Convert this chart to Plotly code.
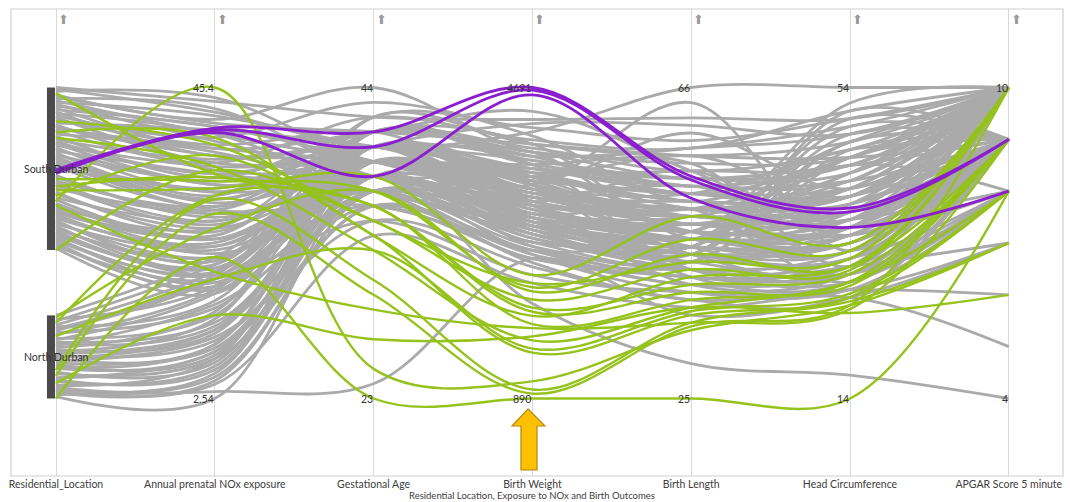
import plotly.graph_objects as go

# ---------------- data ----------------
axis_names = ["Residential_Location", "Annual prenatal NOx exposure", "Gestational Age",
              "Birth Weight", "Birth Length", "Head Circumference", "APGAR Score 5 minute"]
categories = ["South Durban", "North Durban"]
chart_title = "Residential Location, Exposure to NOx and Birth Outcomes"

# G = grey (not marked), H = green (marked), P = purple (marked)
group_south = ["G", "G", "G", "H", "G", "G", "G", "G",
               "G", "G", "G", "G", "G", "G", "G", "G",
               "G", "G", "H", "G", "G", "G", "G", "G",
               "H", "G", "G", "H", "G", "G", "G", "G",
               "G", "G", "G", "G", "G", "G", "G", "G",
               "G", "G", "G", "G", "P", "P", "P", "G",
               "G", "H", "G", "G", "G", "H", "G", "H",
               "G", "G", "H", "G", "G", "H", "G", "H",
               "G", "G", "G", "G", "G", "G", "G", "G",
               "G", "G", "G", "G", "G", "G", "G", "G",
               "G", "G", "G", "G", "G", "G", "G", "H"]
group_north = ["G", "H", "G", "G", "H", "G", "G", "G",
               "G", "G", "G", "H", "G", "G", "G", "G",
               "G", "G", "G", "G", "G", "G", "G", "G",
               "G", "G", "G", "G", "G", "H", "G", "G",
               "H", "G", "G", "G", "H", "G", "G", "G",
               "G", "G", "G", "G", "H"]
group = group_south + group_north
location = ["South Durban"] * len(group_south) + ["North Durban"] * len(group_north)

nox = [43.5, 42.0, 44.0, 33.5, 41.0, 40.5, 42.5, 39.0,
       41.5, 38.0, 40.0, 37.0, 40.0, 36.0, 39.0, 38.5,
       35.0, 37.5, 37.5, 39.5, 34.0, 36.0, 37.0, 35.0,
       38.5, 36.5, 33.0, 34.5, 35.5, 33.5, 32.0, 34.5,
       31.0, 32.0, 33.5, 30.5, 32.5, 30.0, 29.5, 31.5,
       28.5, 30.0, 29.0, 31.0, 39.8, 39.5, 39.2, 27.5,
       28.5, 32.5, 29.0, 27.0, 26.5, 33.0, 28.0, 31.5,
       25.5, 26.0, 36.0, 27.0, 25.0, 45.4, 24.5, 20.0,
       26.0, 23.5, 24.5, 25.0, 22.5, 23.5, 24.0, 21.5,
       22.0, 23.0, 20.5, 21.5, 22.0, 19.5, 20.5, 21.0,
       18.5, 19.5, 20.0, 17.5, 18.0, 19.0, 17.0, 34.0,
       # north
       22.0, 26.0, 18.0, 21.0, 30.5, 20.0, 16.0, 19.5,
       19.0, 15.0, 17.5, 19.0, 14.0, 17.0, 13.0, 12.5,
       15.5, 14.5, 11.5, 13.5, 12.0, 10.5, 12.0, 9.5,
       11.0, 10.0, 8.5, 10.0, 9.0, 30.0, 7.5, 8.0,
       28.0, 9.0, 6.5, 7.0, 14.0, 8.0, 5.5, 6.0,
       4.5, 5.0, 3.5, 2.54, 22.0]
gest_age = [42, 40, 39, 36, 44, 41, 38, 39,
            40, 38, 40, 41, 39, 40, 37, 43,
            39, 41, 35, 40, 38, 39, 39, 42,
            34, 37, 41, 33, 40, 40, 38, 39,
            40, 38, 37, 41, 39, 40, 38, 40,
            36, 39, 39, 37, 41, 40, 38, 38,
            40, 37, 40, 39, 39, 36, 37, 38,
            40, 38, 34, 38, 41, 25, 39, 29,
            41, 38, 37, 40, 36, 39, 39, 42,
            38, 37, 40, 39, 38, 35, 40, 41,
            39, 38, 40, 37, 39, 38, 40, 35,
            # north
            39, 37, 40, 38, 36, 38, 41, 40,
            39, 37, 39, 33, 40, 38, 38, 39,
            36, 41, 40, 42, 37, 37, 39, 38,
            35, 40, 40, 41, 39, 31, 39, 36,
            30, 36, 38, 38, 27, 40, 37, 39,
            34, 37, 24, 38, 23]
birth_weight = [4300, 4150, 3650, 2000, 3900, 4000, 3350, 3500,
                3700, 3600, 3900, 4400, 3300, 3800, 3050, 4100,
                3450, 3550, 2300, 3650, 3100, 3250, 3550, 4050,
                1900, 3000, 3900, 1600, 3400, 3500, 3200, 3750,
                3050, 2650, 2900, 3850, 3350, 4250, 2800, 3600,
                2700, 3150, 3450, 2550, 4691, 4660, 4600, 3250,
                3750, 2250, 3500, 3300, 3000, 1950, 2850, 2400,
                3700, 3150, 1450, 3100, 4000, 1100, 3400, 1750,
                3950, 2950, 2700, 3300, 2600, 3600, 3550, 4200,
                3000, 2750, 3450, 3250, 3050, 2400, 3550, 3800,
                3200, 2900, 3650, 2900, 3400, 3350, 3100, 2100,
                # north
                3300, 2200, 3600, 3150, 1800, 3000, 3900, 3500,
                3450, 2800, 3250, 1500, 3150, 3700, 2750, 2950,
                2650, 3850, 3500, 4000, 3000, 3100, 3250, 2850,
                2500, 3600, 3400, 3750, 3350, 1000, 3050, 2600,
                950, 2700, 3200, 2900, 1650, 3350, 2950, 3100,
                2300, 2800, 2600, 2050, 890]
birth_length = [62, 66, 55, 40, 58, 57, 50, 64,
                52, 50, 47, 55, 48, 53, 44, 51,
                46, 60, 43, 49, 44, 45, 47, 58,
                41, 45, 54, 37, 50, 41, 42, 56,
                44, 39, 43, 52, 48, 61, 46, 51,
                40, 47, 52, 38, 54.3, 53.8, 51.4, 49,
                42, 46, 50, 55, 45, 39, 42, 49,
                53, 50, 36, 46, 46, 34, 48, 35,
                55, 44, 47, 49, 41, 57, 52, 59,
                43, 43, 50, 40, 47, 39, 48, 54,
                46, 45, 51, 42, 53, 48, 44, 42,
                # north
                47, 44, 52, 49, 38, 45, 56, 44,
                49, 43, 51, 36.5, 48, 53, 41, 44,
                40, 58, 50, 57, 46, 46, 49, 45,
                38, 47, 51, 54, 50, 35, 46, 42,
                34.5, 41, 47, 43, 37, 49, 44, 48,
                37, 45, 36, 29.6, 25]
head_circ = [50, 54, 44, 30, 48, 45, 39, 33,
             40, 38, 52, 36, 36, 42, 34, 47,
             49, 41, 32, 39, 47, 30, 37, 51,
             31, 34, 44, 29, 41, 29, 32, 31,
             35, 28, 30, 45, 38, 48, 33, 40,
             31, 36, 46, 27, 38.5, 38.0, 36.0, 37,
             31, 33, 42, 35, 48, 28.5, 30, 34,
             44, 29, 27, 36, 38, 26, 39, 25.5,
             46, 32, 44, 38, 29, 40, 41, 50,
             36, 45, 40, 30, 35, 28, 43, 43,
             34, 47, 41, 33, 37, 37, 32, 30.5,
             # north
             36, 31, 40, 43, 29, 33, 45, 30,
             39, 46, 36, 27.5, 37, 42, 31, 51,
             30, 49, 41, 47, 39, 35, 38, 50,
             28, 34, 40, 44, 45, 26.5, 36, 32,
             26, 30, 37, 35, 25, 39, 33, 41,
             27, 34, 27, 17, 14]
apgar = [10, 10, 10, 9, 10, 9, 9, 10,
         10, 9, 10, 9, 10, 9, 9, 10,
         9, 10, 10, 10, 9, 8, 8, 10,
         9, 9, 10, 8, 9, 9, 9, 10,
         9, 8, 8, 10, 9, 10, 10, 9,
         7, 10, 9, 9, 9, 9, 8, 9,
         10, 10, 10, 9, 9, 9, 9, 10,
         10, 9, 8, 10, 10, 7, 9, 9,
         10, 9, 8, 10, 8, 10, 9, 10,
         9, 9, 10, 9, 8, 7, 10, 10,
         9, 9, 10, 9, 10, 9, 9, 10,
         # north
         9, 10, 10, 10, 9, 9, 10, 9,
         10, 9, 10, 8, 9, 10, 8, 9,
         8, 10, 10, 10, 9, 9, 10, 9,
         6, 9, 10, 9, 10, 7, 9, 8,
         10, 8, 10, 9, 6, 9, 9, 10,
         5, 9, 7, 4, 8]

numeric_cols = [nox, gest_age, birth_weight, birth_length, head_circ, apgar]

# ---------------- scales ----------------
n_total = len(location)
counts = {c: location.count(c) for c in categories}
gap = 0.21                               # space between category bands
unit = (1 - gap) / n_total
bands = {}
top = 1.0
for c in categories:
    length = unit * counts[c]
    bands[c] = (top, top - length)
    top = top - length - gap

loc_pos = []
seen = {c: 0 for c in categories}
for c in location:
    hi, lo = bands[c]
    k = seen[c]
    loc_pos.append(hi - (hi - lo) * k / (counts[c] - 1))
    seen[c] += 1

ranges = [(min(col), max(col)) for col in numeric_cols]


def norm(v, lo, hi):
    return (v - lo) / (hi - lo)


rows_y = []
for i in range(n_total):
    ys = [loc_pos[i]]
    for col, (lo, hi) in zip(numeric_cols, ranges):
        ys.append(norm(col[i], lo, hi))
    rows_y.append(ys)

styles = {"G": ("#aaaaaa", 2.8), "H": ("#95c21c", 2.4), "P": ("#8a1fcf", 2.8)}

fig = go.Figure()
for g in ["G", "H", "P"]:
    xs, ys = [], []
    for i in range(n_total):
        if group[i] != g:
            continue
        xs += list(range(7)) + [None]
        ys += rows_y[i] + [None]
    color, width = styles[g]
    fig.add_trace(go.Scatter(x=xs, y=ys, mode="lines",
                             line=dict(color=color, width=width, shape="spline", smoothing=1.0),
                             hoverinfo="skip", showlegend=False))

# category bars and labels
shapes = []
annotations = []
for c in categories:
    hi, lo = bands[c]
    shapes.append(dict(type="rect", xref="x", yref="y", x0=-0.057, x1=-0.006, y0=lo, y1=hi,
                       fillcolor="#4b4b4b", line=dict(width=0), layer="above"))
    annotations.append(dict(x=0, y=(hi + lo) / 2, xref="x", yref="y", text=c, showarrow=False,
                            xanchor="center", yanchor="middle",
                            font=dict(size=10.5, color="#333333")))

# min / max labels of numeric axes
for j, (lo, hi) in enumerate(ranges, start=1):
    for val, yy in ((hi, 1.0), (lo, 0.0)):
        annotations.append(dict(x=j, y=yy, xref="x", yref="y", text=f"{val:g}", showarrow=False,
                                xanchor="right", yanchor="middle", xshift=1,
                                font=dict(size=10.5, color="#333333")))

# small sort arrows at top of each axis
for j in range(7):
    annotations.append(dict(x=j, y=1, xref="x", yref="paper", text="⬆", showarrow=False,
                            xanchor="left", yanchor="top", xshift=0, yshift=0,
                            font=dict(size=13, color="#9a9a9a")))

# x-axis title
annotations.append(dict(x=3, y=0, xref="x", yref="paper", text=chart_title, showarrow=False,
                        xanchor="center", yanchor="middle", yshift=-19,
                        font=dict(size=9.5, color="#404040")))

# frame
shapes.append(dict(type="rect", xref="paper", yref="paper", x0=0, x1=1, y0=0, y1=1,
                   line=dict(color="#cfcfcf", width=1.2), layer="above"))


# highlight arrow (orange block arrow under Birth Weight)
def px_x(p):
    return (p - 56) / 158.8


def px_y(p):
    return (398.5 - p) / 311.0


arrow_pts = [(528, 409), (545, 426), (537, 426), (537, 470), (521, 470), (521, 426), (512, 426)]
path = "M " + " L ".join(f"{px_x(a):.4f},{px_y(b):.4f}" for a, b in arrow_pts) + " Z"
shapes.append(dict(type="path", xref="x", yref="y", path=path, fillcolor="#ffc000",
                   line=dict(color="#b8860b", width=1.2), layer="above"))

fig.update_layout(
    width=1070, height=502,
    margin=dict(l=11, r=7, t=9, b=26),
    paper_bgcolor="white", plot_bgcolor="white",
    font=dict(family="Lato, Open Sans, sans-serif"),
    shapes=shapes, annotations=annotations,
    xaxis=dict(range=[px_x(11), px_x(1063)], tickmode="array", tickvals=list(range(7)),
               ticktext=axis_names, showgrid=True, gridcolor="#d9d9d9", gridwidth=1,
               zeroline=False, showline=False, ticks="", fixedrange=True,
               tickfont=dict(size=10.5, color="#404040")),
    yaxis=dict(range=[px_y(476), px_y(9)], visible=False, fixedrange=True),
)

fig.write_html("out.html", config={"displayModeBar": False},
               post_script="document.body.style.margin='0';")
